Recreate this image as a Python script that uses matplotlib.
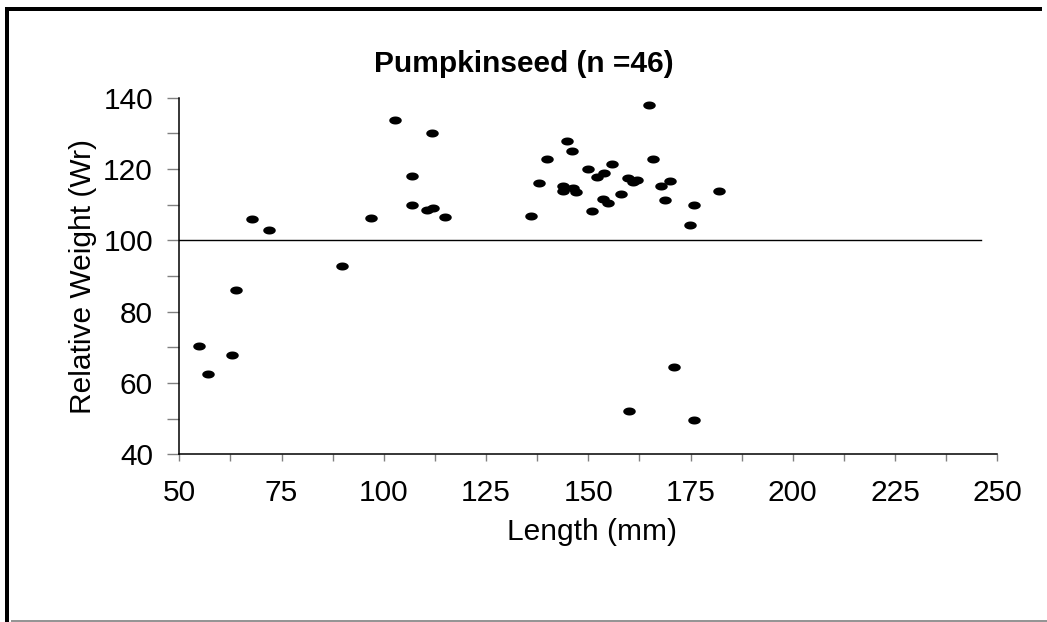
import numpy as np
import matplotlib
matplotlib.use("Agg")
from matplotlib import pyplot as plt
from matplotlib.path import Path
from matplotlib.lines import Line2D

# Pumpkinseed length (mm) vs relative weight (Wr)
length_mm = [
    102.7, 111.8, 106.8, 106.8, 110.5, 112.0, 114.9, 96.8, 67.8, 71.9,
    89.8, 63.8, 54.8, 62.9, 56.9,
    135.9, 137.9, 139.8, 144.9, 145.9, 143.9, 143.9, 146.2, 147.0, 150.0,
    151.0, 152.1, 153.8, 155.9, 153.7, 154.9, 157.9, 159.8, 161.0, 162.0,
    164.9, 165.9, 167.8, 170.0, 168.8, 175.8, 174.9, 182.0,
    170.9, 160.0, 175.9,
]
rel_weight = [
    133.7, 130.0, 118.1, 110.0, 108.6, 109.1, 106.5, 106.4, 106.1, 102.8,
    92.7, 86.1, 70.3, 67.8, 62.6,
    106.8, 116.2, 122.9, 127.9, 125.1, 115.2, 113.9, 114.6, 113.6, 120.0,
    108.1, 117.7, 119.0, 121.4, 111.6, 110.4, 113.0, 117.5, 116.3, 116.9,
    137.9, 122.9, 115.3, 116.6, 111.3, 109.8, 104.4, 113.9,
    64.4, 52.1, 49.6,
]

# reference line at Wr = 100
ref_x = [50, 246]
ref_y = [100, 100]

x_ticks = [50, 75, 100, 125, 150, 175, 200, 225, 250]
y_ticks = [40, 60, 80, 100, 120, 140]

plt.rcParams["font.family"] = ["Liberation Sans", "DejaVu Sans"]
FS = 21.5

W, H = 1047, 622
fig = plt.figure(figsize=(W / 100, H / 100), dpi=100)
fig.patch.set_facecolor("white")

# axes placed in pixel terms of the reference
left, right, top, bottom = 179.3, 997.3, 97.7, 454.3
ax = fig.add_axes([left / W, 1 - bottom / H, (right - left) / W, (bottom - top) / H])

# elliptical marker like the spreadsheet's flattened dots
t = np.linspace(0, 2 * np.pi, 60)
ellipse = Path(np.column_stack([np.cos(t), 0.64 * np.sin(t)]), closed=True)

ax.plot(ref_x, ref_y, color="black", linewidth=1.0, zorder=2)
ax.plot(length_mm, rel_weight, linestyle="none", marker=ellipse,
        markersize=9, color="black", markeredgewidth=0, zorder=3)

ax.set_xlim(50, 250)
ax.set_ylim(40, 140)
ax.set_xticks(x_ticks)
ax.set_yticks(y_ticks)
ax.set_xticks(np.arange(50, 251, 12.5), minor=True)
ax.set_yticks(np.arange(40, 141, 10), minor=True)

for s in ["top", "right"]:
    ax.spines[s].set_visible(False)
for s in ["left", "bottom"]:
    ax.spines[s].set_color("black")
    ax.spines[s].set_linewidth(1.1)

ax.tick_params(axis="x", which="both", direction="out", length=5, width=1,
               color="#808080", labelsize=FS, pad=13)
ax.tick_params(axis="y", which="both", direction="out", length=9, width=1,
               color="#808080", labelsize=FS, pad=10)
ax.tick_params(which="minor", labelleft=False, labelbottom=False)

ax.set_xlabel("Length (mm)", fontsize=FS, va="baseline")
ax.xaxis.set_label_coords((592 - left) / (right - left), (bottom - 540) / (bottom - top))
ax.set_ylabel("Relative Weight (Wr)", fontsize=FS, va="center")
ax.yaxis.set_label_coords((83 - left) / (right - left), 0.5)

ax.set_title("Pumpkinseed (n =46)", fontsize=FS, fontweight="bold",
             x=(523.5 - left) / (right - left), y=(bottom - 71.7) / (bottom - top),
             va="baseline", pad=0)

# outer frame: thick black on top and left, thin grey at the bottom
lw_frame = 4 * 72 / 100
fig.add_artist(Line2D([4.7 / W, 1042 / W], [1 - 8.7 / H] * 2, color="black",
                      linewidth=lw_frame, solid_capstyle="butt"))
fig.add_artist(Line2D([6.7 / W] * 2, [1 - 6.7 / H, 0], color="black",
                      linewidth=lw_frame, solid_capstyle="butt"))
fig.add_artist(Line2D([11 / W, 1], [1 - 620.8 / H] * 2, color="#808080",
                      linewidth=1.2, solid_capstyle="butt"))

fig.savefig("out.png", dpi=100, facecolor=fig.get_facecolor())
